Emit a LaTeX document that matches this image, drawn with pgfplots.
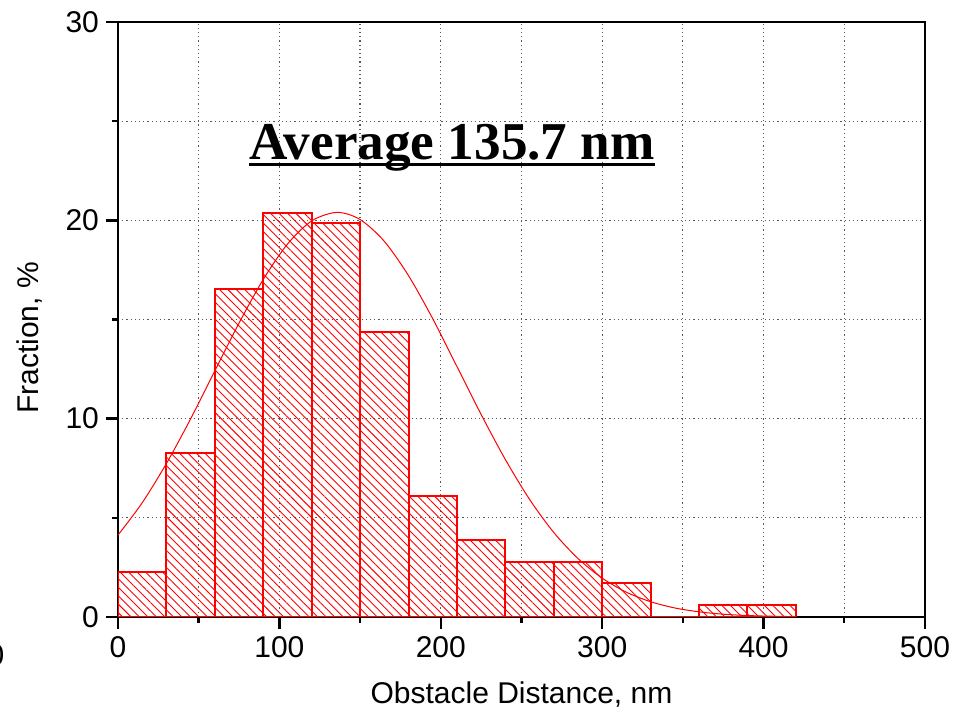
\documentclass[border=0pt]{standalone}
\usepackage{fontspec}
\setmainfont{Liberation Sans}
\newfontfamily\timesfont{Liberation Serif}
\usepackage{pgfplots}
\pgfplotsset{compat=1.18}
\usetikzlibrary{patterns.meta}

\begin{document}
\begin{tikzpicture}
\begin{axis}[name=ax, scale only axis, width=403.5pt, height=297.5pt,
 xmin=0, xmax=500, ymin=0, ymax=30,
 xtick={0,100,...,500}, ytick={0,10,20,30},
 minor x tick num=1, minor y tick num=1,
 xtick pos=bottom, ytick pos=left, tick align=outside,
 major tick length=6pt, minor tick length=3pt,
 every tick/.style={black, line width=1.2pt},
 axis line style={line width=1.3pt},
 grid=both,
 major grid style={black!65, line width=0.6pt, dash pattern=on 0.6pt off 1.5pt},
 minor grid style={black!65, line width=0.6pt, dash pattern=on 0.6pt off 1.5pt},
 tick label style={font=\fontsize{15}{18}\selectfont},
 label style={font=\fontsize{15}{18}\selectfont},
 /pgf/number format/assume math mode=true,
 xlabel={Obstacle Distance, nm}, ylabel={Fraction, \%},
 xlabel style={at={(axis description cs:0.5,-0.131)}, anchor=center},
 ylabel style={at={(axis description cs:-0.109,0.469)}, anchor=center},
]
\addplot[ybar interval, draw=red, line width=1pt,
  pattern={Lines[angle=-45,distance=3pt,line width=0.45pt]}, pattern color=red]
  coordinates {(0,2.27)(30,8.27)(60,16.54)(90,20.37)(120,19.87)(150,14.37)(180,6.1)(210,3.88)(240,2.77)(270,2.77)(300,1.71)(330,0)(360,0.6)(390,0.6)(420,0.6)};
\addplot[red, line width=0.5pt, smooth] coordinates {
(0,4.13)(15,5.76)(30,7.74)(45,9.99)(60,12.41)(75,14.82)(90,17.02)(105,18.80)(120,19.97)(135.7,20.4)(150,20.04)(165,18.94)(180,17.21)(195,15.04)(210,12.63)(225,10.21)(240,7.94)(255,5.93)(270,4.26)(285,2.95)(300,1.96)(315,1.25)(330,0.77)(345,0.455)(360,0.26)(375,0.14)(390,0.074)(405,0.038)(420,0.018)};
\node[anchor=base, inner sep=0pt, font=\timesfont\bfseries\fontsize{26.6}{30}\selectfont] (tt) at (axis cs:207,23.05) {Average 135.7 nm};
\draw[line width=1.5pt] ([yshift=-2.5pt]tt.base west) -- ([yshift=-2.5pt]tt.base east);
\end{axis}
\node[font=\fontsize{15}{18}\selectfont] at ([shift={(-61pt,-19pt)}]ax.south west) {0};
\pgfresetboundingbox
\path[use as bounding box] ([shift={(-59pt,-49pt)}]ax.south west) rectangle ([shift={(418.5pt,308.5pt)}]ax.south west);
\end{tikzpicture}
\end{document}
